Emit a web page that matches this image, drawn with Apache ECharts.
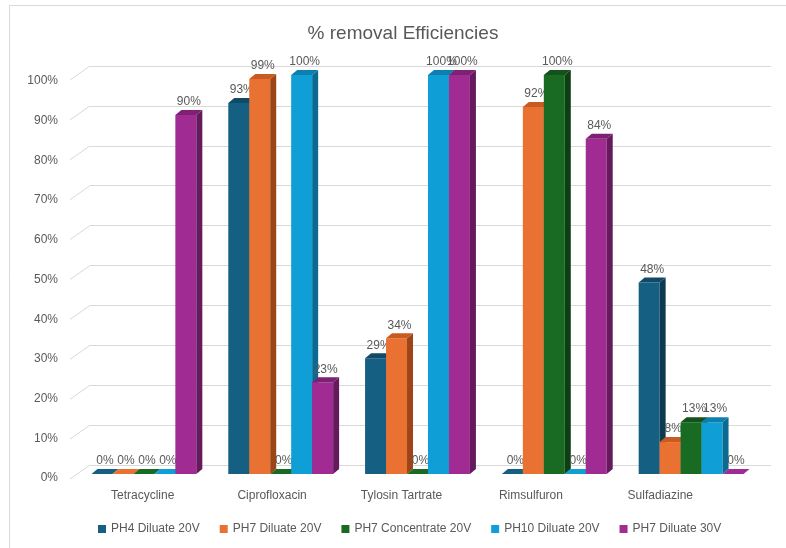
<!DOCTYPE html>
<html><head><meta charset="utf-8">
<script src="https://cdn.jsdelivr.net/npm/echarts@6/dist/echarts.min.js"></script>
<style>html,body{margin:0;padding:0;background:#fff}#c{width:786px;height:548px}</style>
</head><body><div id="c"></div>
<script>
const categories = ['Tetracycline', 'Ciprofloxacin', 'Tylosin Tartrate', 'Rimsulfuron', 'Sulfadiazine'];
const seriesNames = ['PH4 Diluate 20V', 'PH7 Diluate 20V', 'PH7 Concentrate 20V', 'PH10 Diluate 20V', 'PH7 Diluate 30V'];
const ph4Diluate20 = [0, 93, 29, 0, 48];
const ph7Diluate20 = [0, 99, 34, 92, 8];
const ph7Concentrate20 = [0, 0, 0, 100, 13];
const ph10Diluate20 = [0, 100, 100, 0, 13];
const ph7Diluate30 = [90, 23, 100, 84, 0];
const yTicks = [0, 10, 20, 30, 40, 50, 60, 70, 80, 90, 100];

const seriesValues = [ph4Diluate20, ph7Diluate20, ph7Concentrate20, ph10Diluate20, ph7Diluate30];
const colors = ['#156082', '#E97132', '#196B24', '#0F9ED5', '#A02B93'];
const topColors = ['#104a66', '#c85a22', '#13521b', '#0b7fae', '#7e2174'];
const sideColors = ['#0c3a50', '#9c4518', '#0e3f14', '#0a6a92', '#661a5e'];
const txt = '#595959';
const font = 'Liberation Sans, Arial, sans-serif';
const DX = 6, DY = -5;

function makeRender(si) {
  return function (params, api) {
    const cat = api.value(0), v = api.value(1);
    const base = api.coord([cat, 0]);
    const top = api.coord([cat, v]);
    const band = api.size([1, 0])[0];
    const w = band * 105 / 137 / 5;
    const x0 = base[0] + (si - 2) * w - w / 2;
    const ty = top[1], by = base[1];
    const children = [];
    if (by - ty > 0.5) {
      children.push({ type: 'rect', shape: { x: x0, y: ty, width: w, height: by - ty }, style: { fill: colors[si] } });
      children.push({ type: 'polygon', shape: { points: [[x0 + w, ty], [x0 + w + DX, ty + DY], [x0 + w + DX, by + DY], [x0 + w, by]] }, style: { fill: sideColors[si] } });
      children.push({ type: 'polygon', shape: { points: [[x0, ty], [x0 + DX, ty + DY], [x0 + w + DX, ty + DY], [x0 + w, ty]] }, style: { fill: topColors[si] } });
    } else {
      children.push({ type: 'polygon', shape: { points: [[x0, ty], [x0 + DX, ty + DY], [x0 + w + DX, ty + DY], [x0 + w, ty]] }, style: { fill: colors[si] } });
    }
    children.push({ type: 'text', style: { x: x0 + w / 2 + DX / 2, y: ty + DY - 2, text: Math.round(v) + '%', fill: txt, font: '12px ' + font, align: 'center', verticalAlign: 'bottom' } });
    return { type: 'group', children: children };
  };
}

const barSeries = seriesNames.map((name, si) => ({
  name: name,
  type: 'custom',
  xAxisIndex: 0, yAxisIndex: 0,
  itemStyle: { color: colors[si] },
  renderItem: makeRender(si),
  data: seriesValues[si].map((v, i) => [i, v]),
  z: 5
}));

const chart = echarts.init(document.getElementById('c'), null, { renderer: 'canvas' });
chart.setOption({
  animation: false,
  backgroundColor: '#fff',
  title: { text: '% removal Efficiencies', left: 398, top: 19, textAlign: 'center', textStyle: { color: txt, fontSize: 19, fontWeight: 'normal', fontFamily: font } },
  graphic: [{ type: 'rect', shape: { x: 9.5, y: 5.5, width: 900, height: 700 }, style: { fill: 'none', stroke: '#d9d9d9', lineWidth: 1 }, silent: true }],
  legend: {
    left: 93, top: 518, itemWidth: 8, itemHeight: 8, itemGap: 20, icon: 'rect',
    textStyle: { color: txt, fontSize: 12, fontFamily: font },
    data: seriesNames
  },
  grid: [
    { left: 75.5, right: 26.5, top: 75, bottom: 74 },
    { left: 90, right: 15, top: 66, bottom: 83 },
    { left: 78, right: 61, top: 81, bottom: 70 }
  ],
  xAxis: [
    { gridIndex: 0, type: 'category', data: categories, show: false },
    { gridIndex: 1, type: 'value', min: 0, max: 1, show: false },
    { gridIndex: 2, type: 'category', data: categories, axisLine: { show: false }, axisTick: { show: false }, axisLabel: { color: txt, fontSize: 12, fontFamily: font, margin: 12 } }
  ],
  yAxis: [
    { gridIndex: 0, type: 'value', min: 0, max: 100, interval: 10, show: false },
    { gridIndex: 1, type: 'value', min: 0, max: 100, interval: 10, axisLabel: { show: false }, axisLine: { show: false }, axisTick: { show: false }, splitLine: { lineStyle: { color: '#d9d9d9', width: 1 } } },
    { gridIndex: 2, type: 'value', min: 0, max: 100, interval: 10, axisLine: { show: false }, axisTick: { show: false }, splitLine: { show: false }, axisLabel: { color: txt, fontSize: 12, fontFamily: font, margin: 20, formatter: '{value}%' } }
  ],
  series: [{
    type: 'custom', xAxisIndex: 1, yAxisIndex: 1, silent: true, z: 1,
    data: yTicks.map(t => [0, t]),
    renderItem: function (params, api) {
      const p = api.coord([0, api.value(1)]);
      return { type: 'line', shape: { x1: p[0] - 20, y1: p[1] + 14, x2: p[0], y2: p[1] }, style: { stroke: '#d9d9d9', lineWidth: 1 } };
    }
  }].concat(barSeries)
});
</script></body></html>
